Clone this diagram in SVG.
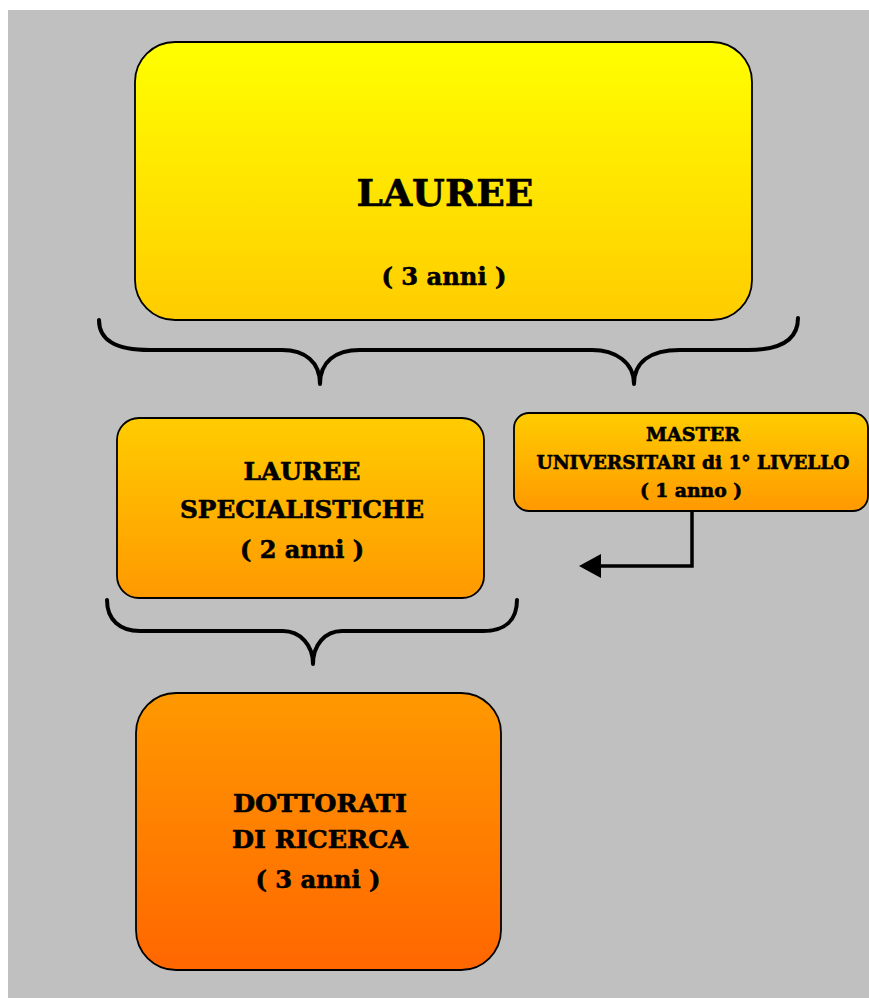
<svg xmlns="http://www.w3.org/2000/svg" width="869" height="998" viewBox="0 0 869 998">
<defs>
<linearGradient id="gY" x1="0" y1="0" x2="0" y2="1"><stop offset="0" stop-color="#FFFF00"/><stop offset="1" stop-color="#FFCC00"/></linearGradient>
<linearGradient id="gO" x1="0" y1="0" x2="0" y2="1"><stop offset="0" stop-color="#FFCC00"/><stop offset="1" stop-color="#FF9900"/></linearGradient>
<linearGradient id="gR" x1="0" y1="0" x2="0" y2="1"><stop offset="0" stop-color="#FF9900"/><stop offset="1" stop-color="#FF6600"/></linearGradient>
</defs>
<style>
.box{stroke:#000;stroke-width:1.8}
.t{font-family:"DejaVu Serif","Liberation Serif",serif;font-weight:bold;fill:#000;stroke:#000;stroke-width:0.6;text-anchor:middle}
.br{fill:none;stroke:#000;stroke-width:4;stroke-linecap:round;stroke-linejoin:round}
</style>
<rect x="0" y="0" width="869" height="998" fill="#FFFFFF"/>
<rect x="8" y="10" width="861" height="988" fill="#C0C0C0"/>
<g id="lauree">
<rect class="box" x="135" y="42" width="617" height="278" rx="40" ry="40" fill="url(#gY)"/>
<text class="t" x="445" y="206" font-size="38" textLength="177" lengthAdjust="spacingAndGlyphs">LAUREE</text>
<text class="t" x="444" y="285" font-size="24" textLength="125" lengthAdjust="spacingAndGlyphs">( 3 anni )</text>
</g>
<g id="specialistiche">
<rect class="box" x="117" y="418" width="367" height="180" rx="22" ry="22" fill="url(#gO)"/>
<text class="t" x="302" y="480" font-size="24" textLength="117" lengthAdjust="spacingAndGlyphs">LAUREE</text>
<text class="t" x="302" y="518" font-size="24" textLength="244" lengthAdjust="spacingAndGlyphs">SPECIALISTICHE</text>
<text class="t" x="302" y="558" font-size="24" textLength="124" lengthAdjust="spacingAndGlyphs">( 2 anni )</text>
</g>
<g id="master">
<rect class="box" x="514" y="413" width="354" height="98" rx="15" ry="15" fill="url(#gO)"/>
<text class="t" x="693" y="441" font-size="18" textLength="94" lengthAdjust="spacingAndGlyphs">MASTER</text>
<text class="t" x="693" y="469" font-size="18" textLength="313" lengthAdjust="spacingAndGlyphs">UNIVERSITARI di 1° LIVELLO</text>
<text class="t" x="691" y="497" font-size="18" textLength="102" lengthAdjust="spacingAndGlyphs">( 1 anno )</text>
</g>
<g id="dottorati">
<rect class="box" x="136" y="693" width="365" height="277" rx="40" ry="40" fill="url(#gR)"/>
<text class="t" x="320" y="812" font-size="24" textLength="174" lengthAdjust="spacingAndGlyphs">DOTTORATI</text>
<text class="t" x="320" y="848" font-size="24" textLength="176" lengthAdjust="spacingAndGlyphs">DI RICERCA</text>
<text class="t" x="318" y="888" font-size="24" textLength="125" lengthAdjust="spacingAndGlyphs">( 3 anni )</text>
</g>
<g id="connectors">
<path class="br" d="M99,320 C99,340 115,350 150,350 L282,350 C305,350 320,362 320,384 C320,362 335,350 360,350 L592,350 C615,350 634,362 634,384 C634,362 650,350 680,350 L748,350 C780,350 798,340 798,318"/>
<path class="br" d="M107,600 C107,620 120,631 140,631 L283,631 C300,631 313,645 313,664 C313,645 325,631 342,631 L483,631 C505,631 517,620 517,600"/>
<path d="M692,511 L692,566 L598,566" fill="none" stroke="#000" stroke-width="3.5"/>
<path d="M579,566 L601,554 L601,578 Z" fill="#000"/>
</g>
</svg>
